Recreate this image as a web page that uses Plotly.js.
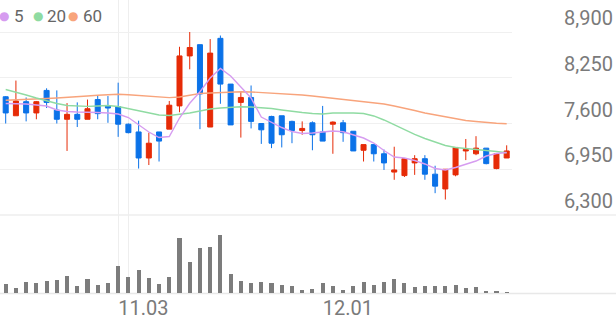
<!DOCTYPE html>
<html><head><meta charset="utf-8">
<script src="https://cdn.plot.ly/plotly-3.0.1.min.js"></script>
<style>html,body{margin:0;padding:0;background:#fff;}#chart{width:616px;height:321px;}</style>
</head><body><div id="chart"></div>
<script>
const dates = ['10.17','10.20','10.21','10.22','10.23','10.24','10.27','10.28','10.29','10.30','10.31',
 '11.03','11.04','11.05','11.06','11.07','11.10','11.11','11.12','11.13','11.14','11.17','11.18','11.19','11.20','11.21','11.24','11.25','11.26','11.27','11.28',
 '12.01','12.02','12.03','12.04','12.05','12.08','12.09','12.10','12.11','12.12','12.15','12.16','12.17','12.18','12.19','12.22','12.23','12.24','12.26'];
const openP  = [7980,7710,7910,7750,8070,7790,7660,7730,7660,7940,7850,7840,7590,7480,7110,7480,7520,7850,8560,8720,7550,8810,8160,7900,7970,7600,7700,7710,7630,7500,7610,7480,7590,7610,7490,7220,7300,7170,6910,6860,7040,7100,6880,6670,6870,7210,7170,7250,6960,7110];
const highP  = [7990,8210,7970,7920,8100,8070,7890,7900,7940,8000,7990,8180,7600,7640,7470,7480,7920,8690,8900,8720,8800,8850,8160,8060,8140,7600,7710,7710,7640,7630,7630,7850,7630,7650,7490,7300,7300,7230,7270,7100,7150,7150,7000,6950,7260,7380,7420,7250,7170,7290];
const lowP   = [7600,7710,7630,7660,7820,7600,7210,7550,7660,7660,7610,7410,7460,6960,7010,7060,7520,7760,8370,7520,7550,7880,7580,7400,7530,7310,7250,7260,7320,7440,7220,7350,7170,7340,7210,7060,7060,6940,6800,6840,6870,6800,6610,6520,6850,7080,7150,7020,6950,7110];
const closeP = [7750,7920,7750,7910,7900,7660,7730,7660,7810,7740,7820,7590,7470,7110,7320,7350,7860,8560,8680,8020,8600,8160,7580,7970,7630,7510,7320,7440,7500,7530,7440,7350,7620,7470,7210,7300,7170,7040,6940,7100,7100,6880,6710,6950,7260,7230,7250,7030,7170,7210];
const ma5  = [7884,7884,7877,7863,7849,7792,7770,7763,7763,7756,7749,7735,7685,7579,7479,7401,7415,7678,7887,8052,8246,8381,8275,8119,7962,7692,7614,7543,7486,7458,7465,7483,7493,7483,7437,7394,7323,7216,7124,7110,7074,7025,6961,6939,6975,7025,7067,7138,7174,7188];
const ma20 = [8083,8048,8005,7962,7920,7884,7856,7849,7844,7849,7856,7842,7813,7785,7749,7721,7714,7728,7749,7778,7806,7820,7834,7839,7834,7827,7813,7792,7770,7756,7742,7735,7749,7753,7749,7742,7707,7650,7579,7508,7444,7387,7337,7287,7259,7248,7231,7216,7202,7185];
const ma60 = [7930,7934,7941,7948,7955,7962,7969,7976,7991,8001,8009,8015,8009,7998,7984,7969,7967,7976,7998,8026,8033,8040,8048,8052,8048,8040,8033,8026,8016,8005,7991,7976,7959,7944,7930,7913,7896,7877,7849,7820,7785,7749,7721,7692,7664,7643,7628,7614,7604,7597];
const volume = [180,100,226,206,246,266,346,134,280,154,206,546,314,454,306,180,320,1100,620,894,920,1166,380,234,200,214,200,160,140,66,80,200,146,66,134,226,160,214,274,200,120,134,134,146,154,100,114,46,34,26];
const maNames = ['5','20','60'];
const maColors = ['#d69cf0','#8fdba2','#f8a47c'];
const yTickVals = [6300,6950,7600,8250,8900];
const yTickText = ['6,300','6,950','7,600','8,250','8,900'];
const xTickVals = ['11.03','12.01'];
const xTickText = ['11.03','12.01'];

const RED = '#e62b07', BLUE = '#0b72e8';
const traces = [
  {type:'bar', x:dates, y:volume, xaxis:'x', yaxis:'y2', marker:{color:'#7c7c7c'}, width:0.4, hoverinfo:'skip'},
  {type:'scatter', mode:'lines', x:dates, y:ma60, line:{color:maColors[2], width:1.4}, hoverinfo:'skip'},
  {type:'scatter', mode:'lines', x:dates, y:ma20, line:{color:maColors[1], width:1.4}, hoverinfo:'skip'},
  {type:'candlestick', x:dates, open:openP, high:highP, low:lowP, close:closeP, xaxis:'x', yaxis:'y',
   increasing:{line:{color:RED, width:1}, fillcolor:RED},
   decreasing:{line:{color:BLUE, width:1}, fillcolor:BLUE}, hoverinfo:'skip'},
  {type:'scatter', mode:'lines', x:dates, y:ma5, line:{color:maColors[0], width:1.4}, hoverinfo:'skip'}
];

const H = 293, W = 616;
const px = v => v / W, py = v => 1 - v / H;
const tickFont = {family:'Roboto, sans-serif', size:20, color:'#7a7a7a'};
const annotations = [];
const legendX = [[4,14],[38,47],[73,83]];
maNames.forEach((n,i)=>{
  annotations.push({xref:'paper', yref:'paper', x:px(legendX[i][0]), y:py(16), xanchor:'center', yanchor:'middle',
    text:'●', showarrow:false, font:{family:'DejaVu Sans', size:12, color:maColors[i]}});
  annotations.push({xref:'paper', yref:'paper', x:px(legendX[i][1]-2), y:py(16), xanchor:'left', yanchor:'middle',
    text:n, showarrow:false, font:{family:'Roboto, sans-serif', size:17, color:'#666'}});
});

const shapes = [];
xTickVals.forEach(v=>shapes.push({type:'line', xref:'x', yref:'paper', x0:v, x1:v, y0:0, y1:1, layer:'below', line:{color:'#eeeeee', width:1}}));
shapes.push({type:'line', xref:'paper', yref:'paper', x0:0, x1:1, y0:py(215), y1:py(215), layer:'below', line:{color:'#eeeeee', width:1.5}});
shapes.push({type:'line', xref:'paper', yref:'paper', x0:0, x1:1, y0:py(293.5), y1:py(293.5), layer:'below', line:{color:'#e8e8e8', width:1.5}});

const layout = {
  width:616, height:321,
  margin:{l:0, r:0, t:0, b:28, pad:0},
  paper_bgcolor:'#fff', plot_bgcolor:'#fff',
  showlegend:false, dragmode:false, bargap:0,
  xaxis:{type:'category', domain:[0, 512/W], range:[-0.557, 49.52], anchor:'y2',
    tickmode:'array', tickvals:xTickVals, ticktext:xTickText, ticklabelposition:'outside right',
    ticklabelstandoff:1,
    showgrid:false, zeroline:false, showline:false, ticks:'', tickfont:tickFont,
    rangeslider:{visible:false}, fixedrange:true},
  yaxis:{domain:[78/H, 1], range:[6300, 9354.7], side:'right', anchor:'free', position:1,
    tickmode:'array', tickvals:yTickVals, ticktext:yTickText, ticklabelposition:'inside top',
    showgrid:true, gridcolor:'#f0f0f0', gridwidth:1, zeroline:false, showline:false, ticks:'',
    tickfont:tickFont, fixedrange:true},
  yaxis2:{domain:[0, 68/H], range:[0, 1360], showgrid:false, zeroline:false, showline:false,
    showticklabels:false, ticks:'', fixedrange:true},
  annotations, shapes
};
Plotly.newPlot('chart', traces, layout, {staticPlot:true, displayModeBar:false});
</script></body></html>
